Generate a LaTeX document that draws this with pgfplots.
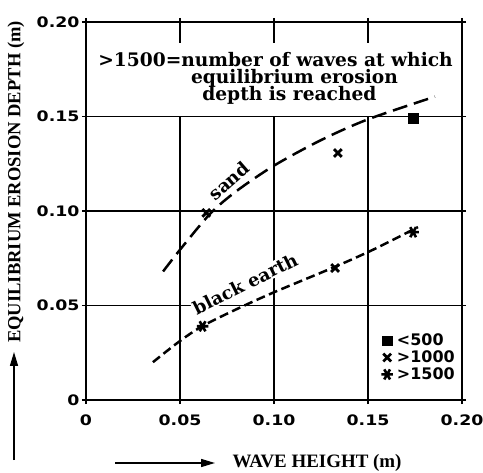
\documentclass[border=0pt]{standalone}
\usepackage{fontspec}
\setmainfont{DejaVu Sans}
\newfontfamily\tickfont{DejaVu Sans}[FakeStretch=1.2]
\newfontfamily\labfont{Liberation Serif}
\newfontfamily\notefont{DejaVu Serif}
\usepackage{pgfplots}
\pgfplotsset{compat=1.18}
\usetikzlibrary{calc,arrows.meta}

\begin{document}
\begin{tikzpicture}
\begin{axis}[
  scale only axis, width=376bp, height=378bp,
  xmin=0, xmax=0.2, ymin=0, ymax=0.2,
  xtick={0,0.05,0.1,0.15,0.2}, ytick={0,0.05,0.1,0.15,0.2},
  xticklabels={0,0.05,0.10,0.15,0.20},
  yticklabels={0,0.05,0.10,0.15,0.20},
  ticklabel style={font=\tickfont\fontsize{14.5}{15}\selectfont\bfseries},
  xticklabel style={yshift=-7bp},
  yticklabel style={xshift=1bp},
  grid=major,
  grid style={black, line width=1.6bp},
  axis line style={line width=1.9bp},
  tick style={black, line width=1.5bp},
  major tick length=4bp, tick align=outside,
  clip=false,
  legend style={at={(axis cs:0.157,0.0355)}, anchor=north west, draw=none, fill=none,
    font=\fontsize{16}{16}\selectfont\bfseries, inner sep=0pt, row sep=1.5bp,
    column sep=3bp, nodes={inner sep=1bp}},
  legend cell align=left,
  legend image code/.code={\draw[#1, only marks] plot coordinates {(5bp,0bp)};},
]
% white box behind the note
\fill[white] (axis cs:0.002,0.1505) rectangle (axis cs:0.198,0.189);
\node[anchor=base, font=\notefont\fontsize{18.7}{18}\selectfont\bfseries] at (axis cs:0.1008,0.1767) {>1500=number of waves at which};
\node[anchor=base, font=\notefont\fontsize{18.7}{18}\selectfont\bfseries] at (axis cs:0.1109,0.1672) {equilibrium erosion};
\node[anchor=base, font=\notefont\fontsize{18.7}{18}\selectfont\bfseries] at (axis cs:0.1082,0.1582) {depth is reached};

\node[fill=white, inner sep=1bp, rotate=26.5, font=\notefont\fontsize{18}{18}\selectfont\bfseries] at (axis cs:0.0846,0.0615) {black earth};
\node[fill=white, inner sep=1bp, rotate=41, font=\notefont\fontsize{18}{18}\selectfont\bfseries] at (axis cs:0.0761,0.1159) {sand};

% sand
\addplot[forget plot, line width=2.5bp, dash pattern=on 15bp off 7bp, smooth] coordinates {
  (0.041,0.068) (0.050,0.0795) (0.066,0.0985) (0.080,0.1105) (0.100,0.1240)
  (0.125,0.1375) (0.150,0.1485) (0.1856,0.1605)
};
% black earth
\addplot[forget plot, line width=2.5bp, dash pattern=on 9bp off 4.5bp, smooth] coordinates {
  (0.0356,0.020) (0.049,0.0305) (0.0617,0.039) (0.080,0.048) (0.100,0.057)
  (0.1325,0.0705) (0.1537,0.080) (0.1766,0.0915)
};

\addplot[only marks, mark=square*, mark size=4.8bp] coordinates {(0.174,0.149)};
\addplot[only marks, mark=x, mark size=5.5bp, line width=2.8bp] coordinates {
  (0.064,0.099) (0.134,0.1307) (0.1325,0.0698)
};
\addplot[only marks, mark=asterisk, mark size=5.8bp, line width=2.6bp, mark options={rotate=90}] coordinates {
  (0.062,0.039) (0.174,0.0888)
};
\legend{{<500},{>1000},{>1500}}

\coordinate (sw) at (rel axis cs:0,0);
\coordinate (ne) at (rel axis cs:1,1);
\end{axis}
\node[rotate=90, font=\labfont\fontsize{18.6}{18}\selectfont\bfseries] at ($(sw)+(-70bp,218bp)$) {EQUILIBRIUM EROSION DEPTH (m)};
\node[font=\labfont\fontsize{19}{18}\selectfont\bfseries] at ($(sw)+(231bp,-63bp)$) {WAVE HEIGHT (m)};
\draw[line width=1.5bp, -{Triangle[length=14bp,width=8bp]}] ($(sw)+(-72bp,-60bp)$) -- ($(sw)+(-72bp,48bp)$);
\draw[line width=1.5bp, -{Triangle[length=14bp,width=8bp]}] ($(sw)+(29bp,-63bp)$) -- ($(sw)+(129bp,-63bp)$);
\pgfresetboundingbox
\path[use as bounding box] ($(sw)+(-86bp,-73bp)$) rectangle ($(ne)+(21bp,22bp)$);
\end{tikzpicture}
\end{document}
